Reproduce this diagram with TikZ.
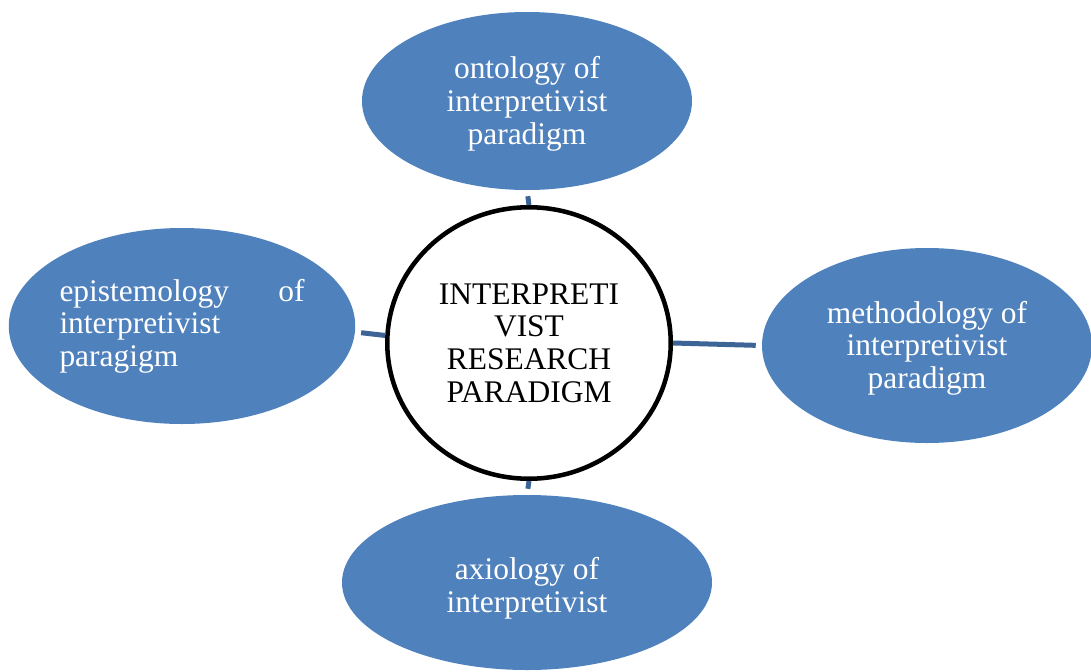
\documentclass[tikz,border=0pt]{standalone}
\usepackage{fontspec}
\setmainfont{Liberation Serif}
\usetikzlibrary{shapes.geometric}
\definecolor{blobblue}{RGB}{79,129,189}
\definecolor{linkblue}{RGB}{60,100,150}
\newcommand{\nudge}[1]{\mbox{}\\[#1]}

\begin{document}
\begin{tikzpicture}[x=0.75pt, y=-0.75pt, every node/.style={ellipse, inner sep=0pt, font=\fontsize{23.6}{24.5}\selectfont}]
\useasboundingbox (0,0) rectangle (1091,671);

\coordinate (Hc) at (529,343);
\coordinate (Oc) at (527,101);
\coordinate (Ec) at (182,326);
\coordinate (Mc) at (927,345.5);
\coordinate (Ac) at (527,582.5);

\begin{scope}[every node/.style={ellipse, inner sep=0pt, fill=blobblue, text=white, align=center, font=\fontsize{23.6}{24.5}\selectfont}]
\node[minimum width=247.5pt, minimum height=133.5pt] (ont) at (Oc) {\nudge{-3.9pt}ontology of\\ interpretivist\\ paradigm};
\node[minimum width=258.75pt, minimum height=147pt, text width=183.75pt, align=left] (epi) at (Ec) {epistemology\hfill of\\ interpretivist\\ paragigm};
\node[minimum width=247.5pt, minimum height=146.25pt] (meth) at (Mc) {\nudge{-3.9pt}methodology of\\ interpretivist\\ paradigm};
\node[minimum width=277.5pt, minimum height=131.25pt] (axi) at (Ac) {\nudge{0.6pt}axiology of\\ interpretivist};
\end{scope}

\node[draw, line width=3.4pt, fill=white, align=center, minimum width=212.6pt, minimum height=203.6pt] (hub) at (Hc) {INTERPRETI\\ VIST\\ RESEARCH\\ PARADIGM};

\begin{scope}[linkblue, line width=3.75pt, shorten >=4.5pt]
\draw (hub.north) -- (ont.south);
\draw (hub.177) -- (epi.-2);
\draw (hub.east) -- (meth.west);
\draw (hub.south) -- (axi.north);
\end{scope}

\end{tikzpicture}
\end{document}
